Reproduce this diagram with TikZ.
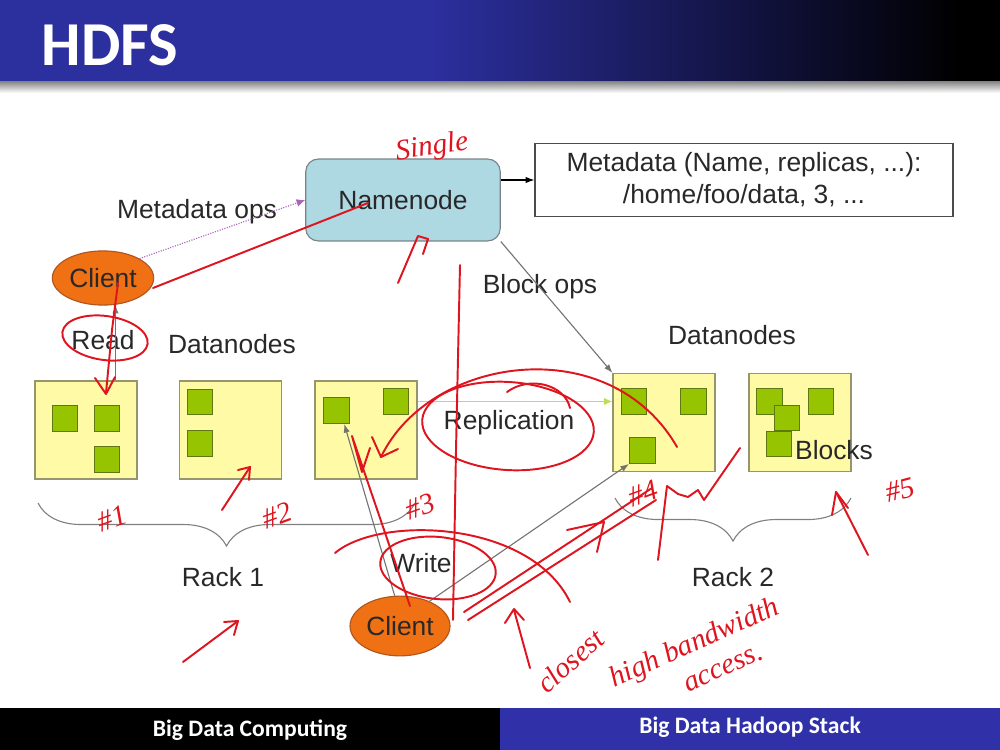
\documentclass[tikz,border=0pt]{standalone}
\usepackage{fontspec}
\setmainfont{Liberation Sans}
\newfontfamily\slidefont{Carlito}
\newfontfamily\handfont{Liberation Serif}
\usepackage{tikz}
\usetikzlibrary{
    arrows.meta,
    positioning,
    shapes.geometric,
    decorations.pathreplacing
}
\definecolor{titleblue}{RGB}{44,47,158}
\definecolor{footblue}{RGB}{48,48,168}
\definecolor{nnblue}{RGB}{174,216,226}
\definecolor{nnline}{RGB}{120,130,135}
\definecolor{dnyellow}{RGB}{255,250,165}
\definecolor{dnline}{RGB}{150,150,110}
\definecolor{blkgreen}{RGB}{150,196,0}
\definecolor{blkline}{RGB}{95,120,20}
\definecolor{clientorange}{RGB}{240,112,20}
\definecolor{clientline}{RGB}{175,85,30}
\definecolor{labeltext}{RGB}{40,40,40}
\definecolor{metapurple}{RGB}{150,60,170}
\definecolor{repgreen}{RGB}{190,220,90}
\definecolor{scribred}{RGB}{222,20,30}

\begin{document}
\begin{tikzpicture}[
    x=0.72pt,
    y=-0.72pt,
    lbl/.style={
        font=\fontsize{19}{22}\selectfont,
        text=labeltext,
        inner sep=0pt
    },
    namebox/.style={
        draw=nnline,
        thick,
        rounded corners=9pt,
        fill=nnblue,
        minimum width=140pt,
        minimum height=59pt,
        lbl
    },
    metabox/.style={
        draw=black!70,
        thick,
        align=center,
        minimum width=301pt,
        minimum height=53pt,
        lbl
    },
    datanode/.style={
        draw=dnline,
        thick,
        fill=dnyellow,
        minimum width=73.4pt,
        minimum height=70.6pt,
        inner sep=0pt
    },
    blockbox/.style={
        draw=blkline,
        thick,
        fill=blkgreen,
        minimum size=18.5pt,
        inner sep=0pt
    },
    client/.style={
        ellipse,
        draw=clientline,
        thick,
        fill=clientorange,
        inner sep=0pt,
        lbl
    },
    grayarrow/.style={
        -{Latex[length=2.2mm,width=1.6mm]},
        draw=black!55,
        thick
    },
    metaarrow/.style={
        -{Latex[length=2.2mm,width=2mm]},
        draw=metapurple!60,
        thick,
        densely dotted,
        color=metapurple!80
    },
    reparrow/.style={
        -{Latex[length=2.2mm,width=2mm]},
        draw=repgreen,
        very thick,
        color=repgreen
    },
    rackbrace/.style={
        draw=black!50,
        thick,
        decorate,
        decoration={brace, amplitude=31pt, mirror}
    },
    scribble/.style={
        draw=scribred,
        line width=1.4pt,
        line cap=round,
        line join=round
    },
    scrawl/.style={
        font=\handfont\itshape\fontsize{21}{23}\selectfont,
        text=scribred,
        inner sep=0pt
    }
]

\useasboundingbox (0,0) rectangle (1000,750);

% title bar
\fill[titleblue] (0,0) rectangle (431,82);
\shade[left color=titleblue, right color=black] (430,0) rectangle (961,82);
\fill[black] (960,0) rectangle (1000,82);
\shade[top color=black!45, bottom color=white] (0,82) rectangle (1000,93);
\node[
    font=\slidefont\bfseries\fontsize{45}{50}\selectfont,
    text=white,
    inner sep=0pt
] (title) at (110,45) {HDFS};

% footer
\fill[black] (0,708) rectangle (500,750);
\fill[footblue] (500,708) rectangle (1000,750);
\node[
    font=\slidefont\bfseries\fontsize{17}{20}\selectfont,
    text=white
] (footleft) at (250,730) {Big Data Computing};
\node[
    font=\slidefont\bfseries\fontsize{17}{20}\selectfont,
    text=white
] (footright) at (750,727) {Big Data Hadoop Stack};

% namenode and metadata
\node[namebox] (namenode) at (403,200) {Namenode};

\node[metabox] (meta) at (744,180) {
    Metadata (Name, replicas, ...):\\[1pt]
    /home/foo/data, 3, ...
};

\node[
    client,
    minimum width=73pt,
    minimum height=39pt
] (client1) at (103,278) {Client};

\node[lbl] (metaops) at (197,212) {Metadata ops};
\node[lbl] (blockops) at (540,287) {Block ops};
\node[lbl] (read) at (103,340) {Read};
\node[lbl] (dnleft) at (232,344) {Datanodes};
\node[lbl] (dnright) at (732,335) {Datanodes};

% datanodes
\node[datanode] (dn1) at (86,430) {};
\node[datanode] (dn2) at (230.5,430) {};
\node[datanode] (dn3) at (366,430) {};
\node[datanode] (dn4) at (664,422.5) {};
\node[datanode] (dn5) at (800,422.5) {};

% blocks
\node[blockbox] (b11) at (65,418.5) {};
\node[blockbox] (b12) at (107,418.5) {};
\node[blockbox] (b13) at (107,459.5) {};
\node[blockbox] (b21) at (200,402) {};
\node[blockbox] (b22) at (200,443.5) {};
\node[blockbox] (b31) at (336.5,410.5) {};
\node[blockbox] (b32) at (396,401.5) {};
\node[blockbox] (b41) at (634,401.5) {};
\node[blockbox] (b42) at (693.5,401.5) {};
\node[blockbox] (b43) at (642.5,450.5) {};
\node[blockbox] (b51) at (769.5,401.5) {};
\node[blockbox] (b52) at (787,418) {};
\node[blockbox] (b53) at (779,444) {};
\node[blockbox] (b54) at (821,401.5) {};
\node[lbl] (blocks) at (834,450) {Blocks};

\node[lbl] (replication) at (509,423) {Replication};

% racks
\coordinate (rack1l) at (38,503);
\coordinate (rack1r) at (415,503);
\coordinate (rack2l) at (615,498);
\coordinate (rack2r) at (851,498);
\draw[rackbrace] (rack1l) -- (rack1r);
\draw[rackbrace] (rack2l) -- (rack2r);
\node[lbl] (rack1) at (223,577) {Rack 1};
\node[lbl] (rack2) at (733,577) {Rack 2};

\node[
    client,
    minimum width=72pt,
    minimum height=43pt
] (client2) at (400,626) {Client};
\node[lbl] (write) at (421,563) {Write};

% connectors
\draw[-{Latex[length=2.2mm,width=1.6mm]}, thick] (namenode.east |- meta.west) -- (meta.west);
\draw[grayarrow] (namenode.south east) -- (dn4.north west);
\draw[metaarrow] (client1.28) -- (namenode.west);
\draw[reparrow] (b32 -| dn3.east) -- (b32 -| dn4.west);
\draw[grayarrow] (dn1.north -| client1.-65) -- (client1.-65);
\draw[grayarrow] (client2.100) -- (b31.-60);
\draw[grayarrow] (client2.40) -- (b43.south west);

% red annotations
\node[scrawl, rotate=8] (single) at (432,148) {Single};
\draw[scribble] (153,288) -- (368,203);
\draw[scribble] (398,283) -- (418,236) -- (428,239) -- (423,254);
\draw[scribble] (460,265) -- (456,450) -- (453,620);
\draw[scribble] (118,283) -- (112,330) -- (106,393);
\draw[scribble] (95,378) -- (106,394) -- (115,377);
\draw[scribble, rotate around={-8:(105,338)}] (105,338) ellipse [x radius=43, y radius=22];
\draw[scribble, rotate around={-4:(508,426)}] (508,426) ellipse [x radius=86, y radius=44];
\draw[scribble] (507,392) .. controls (530,375) and (565,385) .. (570,408);
\draw[scribble] (677,447) .. controls (610,330) and (430,355) .. (381,457);
\draw[scribble] (372,437) -- (381,457) -- (398,449);
\draw[scribble] (410,606) -- (352,436) -- (362,472) -- (370,448);
\draw[scribble, rotate around={-6:(438,568)}] (438,568) ellipse [x radius=58, y radius=31];
\draw[scribble] (335,553) .. controls (380,515) and (530,520) .. (570,602);
\draw[scribble] (464,612) -- (652,488);
\draw[scribble] (468,620) -- (656,500);
\draw[scribble] (567,530) -- (604,522) -- (597,552);
\draw[scribble] (530,668) -- (514,610);
\draw[scribble] (505,623) -- (514,609) -- (524,620);
\draw[scribble] (658,560) -- (667,486) -- (678,494) -- (688,497) -- (698,490) -- (704,500) -- (740,448);
\draw[scribble] (868,555) -- (836,492);
\draw[scribble] (832,515) -- (836,492) -- (848,508);
\draw[scribble] (222,510) -- (250,467);
\draw[scribble] (238,470) -- (250,467) -- (249,480);
\draw[scribble] (183,662) -- (238,621);
\draw[scribble] (224,622) -- (238,621) -- (234,635);

\node[scrawl, rotate=20] (mark1) at (112,518) {\#1};
\node[scrawl, rotate=20] (mark2) at (277,515) {\#2};
\node[scrawl, rotate=20] (mark3) at (420,507) {\#3};
\node[scrawl, rotate=20] (mark4) at (643,493) {\#4};
\node[scrawl, rotate=15] (mark5) at (900,490) {\#5};
\node[scrawl, rotate=42] (closest) at (570,661) {closest};
\node[scrawl, rotate=24] (bandwidth) at (695,644) {high bandwidth};
\node[scrawl, rotate=24] (access) at (724,669) {access.};

\end{tikzpicture}
\end{document}
